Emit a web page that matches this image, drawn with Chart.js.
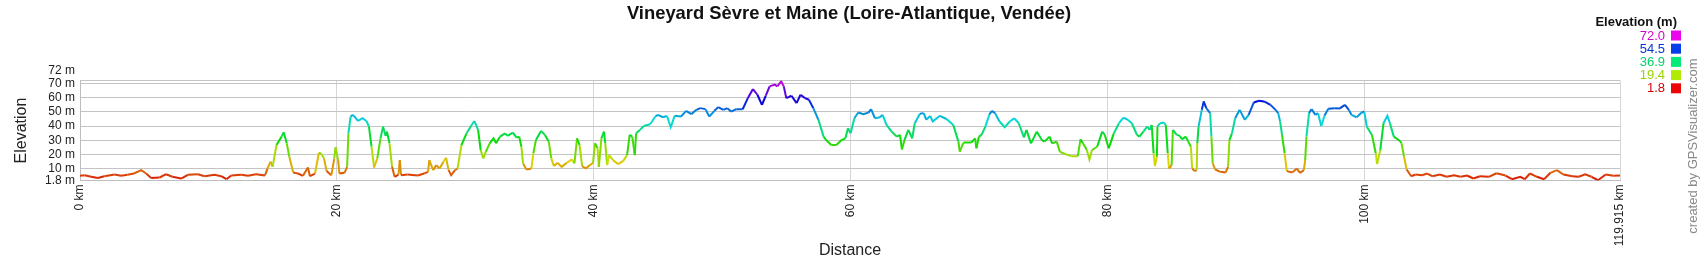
<!DOCTYPE html>
<html>
<head>
<meta charset="utf-8">
<script src="https://cdn.jsdelivr.net/npm/chart.js@4/dist/chart.umd.min.js"></script>
<style>
	html, body { margin: 0; padding: 0; background: #fff; }
	#wrap { width: 1700px; height: 260px; }
</style>
</head>
<body>
<div id="wrap"><canvas id="profile" width="1700" height="260"></canvas></div>
<script>
const chartTitle = "Vineyard Sèvre et Maine (Loire-Atlantique, Vendée)";

// distance along the track (km) and elevation (m)
const distanceKm = [
	0, 0.35, 0.87, 1.39, 1.9, 2.69, 3.2, 3.7, 4.2, 4.77, 5.15, 5.54, 6.2, 6.7, 7.2, 7.88, 8.4, 9.18, 9.7, 10.48,
	11.0, 11.4, 11.78, 12.56, 13.08, 13.7, 14.4, 14.6, 14.84, 15.0, 15.3, 15.7, 15.86, 16.1, 16.3, 16.6, 16.97,
	17.36, 17.75, 17.9, 18.3, 18.6, 18.8, 19.0, 19.2, 19.57, 19.8, 19.9, 20.1, 20.2, 20.6, 20.8, 20.9, 21.07, 21.26,
	21.65, 22.0, 22.3, 22.5, 22.7, 22.9, 23.15, 23.4, 23.6, 23.8, 23.9, 24.1, 24.3, 24.5, 24.8, 24.9, 25.0, 25.5,
	26.3, 26.8, 27.1, 27.2, 27.5, 27.75, 28.0, 28.3, 28.5, 28.7, 28.9, 29.2, 29.4, 29.7, 30.1, 30.5, 30.7, 31.0,
	31.2, 31.4, 31.6, 31.9, 32.2, 32.4, 32.7, 33.1, 33.3, 33.7, 34.0,
	34.2, 34.37, 34.5, 34.76, 35.15, 35.3, 35.5, 35.9, 36.2, 36.5, 36.7, 36.9, 37.2, 37.5, 37.9, 38.3, 38.5, 38.7,
	38.9, 39.1, 39.4, 39.7, 39.95, 40.1, 40.3, 40.4, 40.6, 40.8, 40.9, 41.05, 41.2, 41.5, 41.9, 42.3, 42.6, 42.8,
	43.0, 43.2, 43.3, 43.6, 43.9, 44.4, 44.8, 45.0, 45.4, 45.7, 46.0, 46.3, 46.8, 47.2, 47.6, 48.0, 48.3, 48.7,
	49.0, 49.4, 49.7, 50.1, 50.4, 50.7, 51.1,
	51.6, 52.0, 52.4, 52.75, 53.1, 53.4, 53.7, 54.1, 54.3, 54.6, 54.8, 55.0, 55.4, 55.8, 56.1, 56.45, 56.76, 57.1,
	57.5, 57.9, 58.1, 58.5, 58.9, 59.3, 59.6, 59.8, 60.0, 60.3, 60.6, 61.0, 61.4, 61.6, 61.9, 62.3, 62.5, 62.8,
	63.2, 63.6, 63.85, 64.0, 64.2, 64.5, 64.8, 65.0, 65.4, 65.7, 65.9, 66.2, 66.4, 66.96, 67.5, 68.0, 68.4, 68.5,
	68.8, 69.4, 69.7, 69.8, 70.0, 70.2, 70.5, 70.8, 71.0, 71.25, 71.6, 72.0, 72.4, 72.75, 73.1, 73.5, 73.7, 74.05,
	74.5, 74.9, 75.1, 75.5, 75.7, 76.05, 76.3, 76.7, 77.2, 77.7, 77.9, 78.1, 78.4, 78.6, 78.8, 79.2, 79.6, 79.8,
	80.1, 80.5, 80.9, 81.25, 81.6, 81.9, 82.3, 82.5, 82.8, 83.1, 83.3, 83.45, 83.6, 83.7, 83.85, 83.9, 84.1, 84.4,
	84.55, 84.7, 84.8, 85.0, 85.1, 85.4,
	85.65, 85.8, 86.1, 86.3, 86.5, 86.6, 86.8, 86.95, 87.0, 87.1, 87.35, 87.5, 87.7, 88.0, 88.1, 88.2, 88.4, 88.8,
	89.2, 89.4, 89.5, 89.7, 89.95, 90.3, 90.7, 91.0, 91.4, 91.8, 92.2, 92.7, 93.1, 93.3, 93.45, 93.6, 93.8, 93.97,
	94.4, 94.75, 95.0, 95.3, 95.4, 95.5, 95.7, 95.9, 96.2, 96.4, 96.65, 96.9, 97.2, 97.7, 98.1, 98.5, 98.8, 99.0,
	99.4, 99.8, 100.0, 100.2, 100.6, 100.9, 101.0, 101.25, 101.5, 101.8, 102.0, 102.3, 102.5, 102.8,
	102.9, 103.1, 103.3, 103.66, 104.0, 104.5, 104.9, 105.3, 105.9, 106.4, 107.0, 107.5, 108.0, 108.5, 109.0,
	109.7, 110.3, 111.0, 111.5, 112.15, 112.5, 112.9, 113.45, 114.0, 114.5, 115.0, 115.5, 116.2, 116.7, 117.2,
	117.7, 118.2, 118.8, 119.4, 119.915
];

const elevationM = [
	5.1, 5.5, 4.4, 3.6, 4.8, 6.0, 5.1, 5.8, 6.7, 9.1, 6.7, 3.6, 3.9, 6.2, 4.4, 3.2, 5.8, 6.2, 4.8, 5.8,
	4.8, 2.7, 5.3, 5.8, 5.1, 6.2, 5.3, 10.2, 15.0, 11.4, 26.7, 32.6, 35.6, 27.9, 18.5, 7.4, 6.7,
	5.1, 10.9, 4.8, 6.7, 21.3, 20.4, 17.3, 8.4, 5.5, 17.3, 25.1, 16.1, 6.7, 7.2, 11.4, 34.9, 46.7, 47.9,
	43.6, 45.5, 43.6, 39.6, 25.5, 10.9, 17.3, 31.4, 39.6, 33.1, 36.1, 27.9, 11.4, 4.4, 6.0, 16.1, 5.5, 6.0,
	5.3, 6.7, 7.9, 16.1, 9.1, 12.6, 10.2, 14.9, 17.8, 9.1, 5.5, 9.1, 10.2, 26.7, 34.9, 40.8, 43.6, 37.3,
	23.2, 17.3, 22.0, 27.9, 31.4, 27.9, 32.6, 34.9, 33.1, 35.4, 31.9,
	32.6, 25.5, 13.8, 9.5, 10.2, 20.8, 30.2, 36.6, 33.8, 29.1, 17.3, 11.9, 14.2, 11.4, 14.2, 16.6, 13.8, 31.4,
	26.7, 11.9, 10.2, 12.6, 14.2, 27.9, 24.4, 11.4, 31.4, 36.1, 27.9, 12.6, 19.6, 16.1, 13.3, 15.6, 19.6, 33.8,
	32.6, 19.6, 34.9, 37.3, 40.1, 41.3, 46.7, 47.9, 46.2, 47.2, 39.2, 47.2, 46.7, 50.7, 48.4, 51.4, 52.6, 51.9,
	46.7, 50.7, 53.3, 51.4, 52.6, 50.2, 51.9,
	51.8, 59.6, 66.0, 62.0, 54.9, 61.3, 67.9, 69.1, 67.9, 71.4, 67.9, 59.6, 61.3, 56.1, 62.0, 59.6, 58.5, 52.6,
	44.4, 32.6, 30.2, 26.7, 26.7, 30.2, 31.4, 38.5, 34.9, 45.5, 49.5, 48.4, 49.5, 51.9, 45.5, 46.2, 47.9, 40.8,
	36.1, 32.6, 33.8, 23.6, 30.2, 37.3, 31.4, 42.0, 48.6, 49.1, 44.4, 47.2, 43.2, 47.2, 44.8, 40.8, 29.1, 22.0,
	28.4, 28.4, 31.4, 24.4, 32.6, 33.8, 39.6, 47.9, 50.7, 49.1, 43.2, 39.2, 43.2, 45.5, 42.0, 32.1, 37.3, 27.9,
	36.1, 30.2, 29.1, 32.6, 27.9, 29.1, 22.0, 20.4, 18.9, 18.9, 30.7, 27.9, 23.2, 16.6, 23.2, 25.5, 36.1, 33.8,
	24.4, 34.9, 42.0, 46.0, 44.4, 42.0, 33.8, 32.6, 36.1, 39.6, 37.3, 40.8, 20.8, 11.9, 18.5, 39.6, 42.0, 42.5,
	40.8, 20.8, 10.2, 12.6, 37.3, 33.8,
	33.1, 30.7, 32.6, 29.1, 25.5, 10.2, 8.4, 9.1, 27.9, 39.6, 51.4, 57.3, 52.6, 49.1, 32.6, 13.8, 9.5, 7.9,
	7.4, 11.4, 30.2, 34.9, 45.5, 51.4, 44.4, 47.9, 56.6, 57.8, 57.3, 54.9, 51.4, 49.1, 43.2, 33.8, 20.8, 8.4,
	7.4, 10.2, 7.2, 9.1, 16.1, 32.6, 49.1, 51.9, 47.9, 49.1, 40.1, 47.2, 52.1, 52.6, 52.4, 54.9, 51.4, 47.9,
	46.2, 49.5, 50.2, 39.6, 33.8, 20.8, 13.3, 23.2, 42.0, 47.2, 42.0, 32.6, 31.4, 29.3,
	27.9, 18.5, 9.5, 4.8, 6.0, 5.5, 6.7, 4.8, 6.0, 4.4, 5.5, 4.4, 5.3, 3.2, 4.8,
	4.4, 6.9, 5.3, 2.7, 4.4, 2.7, 6.7, 4.4, 2.7, 7.2, 9.1, 6.0, 4.8, 4.4, 6.2,
	4.4, 2.0, 6.0, 5.1, 5.3
];

const yTicks = [1.8, 10, 20, 30, 40, 50, 60, 70, 72];
const xTicks = [0, 20, 40, 60, 80, 100, 119.915];
const legendValues = [72.0, 54.5, 36.9, 19.4, 1.8];

const minElev = 1.8;
const maxElev = 72;

function elevHue(e) {
	const t = (e - minElev) / (maxElev - minElev);
	return Math.max(0, Math.min(300, t * 300));
}

function elevColor(e, light) {
	return `hsl(${elevHue(e).toFixed(1)}, 95%, ${light}%)`;
}

function formatKm(v) {
	return v === 119.915 ? "119.915 km" : `${v} km`;
}

// title, legend box at the right and the vertical credit line
const sidePlugin = {
	id: "sidePlugin",
	afterDraw(chart) {
		const ctx = chart.ctx;
		ctx.save();
		ctx.textBaseline = "middle";

		ctx.font = "bold 18.4px 'Liberation Sans', Arial, sans-serif";
		ctx.fillStyle = "#111";
		ctx.textAlign = "center";
		ctx.fillText(chartTitle, 849, 14);

		ctx.font = "bold 13px 'Liberation Sans', Arial, sans-serif";
		ctx.textAlign = "right";
		ctx.fillText("Elevation (m)", 1677, 22);

		ctx.font = "13px 'Liberation Sans', Arial, sans-serif";
		legendValues.forEach((v, i) => {
			const y = 35.5 + i * 13.2;
			ctx.fillStyle = elevColor(v, 42);
			ctx.fillText(v.toFixed(1), 1665, y + 0.5);
			ctx.fillStyle = elevColor(v, 47);
			ctx.fillRect(1671, y - 5, 10, 10);
		});

		ctx.translate(1693, 146);
		ctx.rotate(-Math.PI / 2);
		ctx.textAlign = "center";
		ctx.fillStyle = "#8a8a8a";
		ctx.font = "13px 'Liberation Sans', Arial, sans-serif";
		ctx.fillText("created by GPSVisualizer.com", 0, 0);
		ctx.restore();
	},
};

const ctx = document.getElementById("profile").getContext("2d");

new Chart(ctx, {
	type: "line",
	data: {
		datasets: [
			{
				label: "Elevation",
				data: distanceKm.map((d, i) => ({ x: d, y: elevationM[i] })),
				borderWidth: 2,
				pointRadius: 0,
				tension: 0,
				fill: false,
				segment: {
					borderColor: c => elevColor((c.p0.parsed.y + c.p1.parsed.y) / 2, 44),
				},
			},
		],
	},
	options: {
		responsive: false,
		animation: false,
		layout: {
			padding: { left: 10, right: 80, top: 80.5, bottom: 0 },
		},
		plugins: {
			legend: { display: false },
			tooltip: { enabled: false },
			title: { display: false },
		},
		scales: {
			x: {
				type: "linear",
				min: 0,
				max: 119.915,
				afterBuildTicks: s => {
					s.ticks = xTicks.map(v => ({ value: v }));
				},
				afterFit: s => {
					s.height = 79.5;
				},
				ticks: {
					autoSkip: false,
					minRotation: 90,
					maxRotation: 90,
					padding: 4,
					color: "#222",
					font: { family: "'Liberation Sans', Arial, sans-serif", size: 12 },
					callback: v => formatKm(v),
				},
				grid: { color: "#d6d6d6", drawTicks: false },
				border: { color: "#bdbdbd" },
				title: {
					display: true,
					text: "Distance",
					color: "#222",
					padding: 0,
					font: { family: "'Liberation Sans', Arial, sans-serif", size: 16 },
				},
			},
			y: {
				min: 1.8,
				max: 72,
				afterBuildTicks: s => {
					s.ticks = yTicks.map(v => ({ value: v }));
				},
				afterFit: s => {
					s.width = 70;
				},
				ticks: {
					autoSkip: false,
					padding: 5,
					color: "#222",
					font: { family: "'Liberation Sans', Arial, sans-serif", size: 12, lineHeight: 1.7 },
					callback: v => (v === 72 ? ["72 m", ""] : `${v} m`),
				},
				grid: { color: "#c4c4c4", drawTicks: false },
				border: { color: "#bdbdbd" },
				title: {
					display: true,
					text: "Elevation",
					color: "#222",
					padding: { top: 2, bottom: 0 },
					font: { family: "'Liberation Sans', Arial, sans-serif", size: 16 },
				},
			},
		},
	},
	plugins: [sidePlugin],
});
</script>
</body>
</html>
